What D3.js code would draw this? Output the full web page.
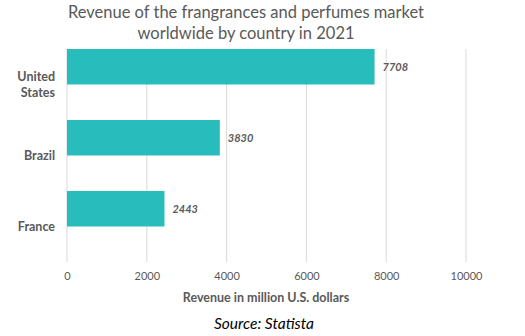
<!DOCTYPE html>
<html>
<head>
<meta charset="utf-8">
<script src="https://cdn.jsdelivr.net/npm/d3@7"></script>
<style>
  html, body { margin: 0; padding: 0; background: #fff; }
  svg { display: block; font-family: Lato, "Open Sans", sans-serif; }
</style>
</head>
<body>
<svg id="chart" width="525" height="336"></svg>
<script>
// Revenue by country, million U.S. dollars
const countries = ["United States", "Brazil", "France"];
const revenue = [7708, 3830, 2443];
const xTicks = [0, 2000, 4000, 6000, 8000, 10000];

const svg = d3.select("#chart");
const textColor = "#595959";
const barColor = "#29bcbc";

const x = d3.scaleLinear().domain([0, 10000]).range([67, 466]);
const y = d3.scaleBand().domain(countries).range([49, 262]).paddingInner(0).paddingOuter(0);
const barH = y.bandwidth() * 0.5;

// Title
svg.append("text")
  .attr("x", 246).attr("y", 18)
  .attr("text-anchor", "middle")
  .attr("fill", textColor)
  .style("font-size", "16.5px")
  .text("Revenue of the frangrances and perfumes market");
svg.append("text")
  .attr("x", 246).attr("y", 39)
  .attr("text-anchor", "middle")
  .attr("fill", textColor)
  .style("font-size", "16.5px")
  .text("worldwide by country in 2021");

// Vertical gridlines
svg.append("g")
  .selectAll("line")
  .data(xTicks)
  .join("line")
  .attr("x1", d => x(d)).attr("x2", d => x(d))
  .attr("y1", 49).attr("y2", 262)
  .attr("stroke", "#d9d9d9")
  .attr("stroke-width", 1);

// Bars
const rows = countries.map((c, i) => ({ c, v: revenue[i] }));
svg.append("g")
  .selectAll("rect")
  .data(rows)
  .join("rect")
  .attr("x", x(0))
  .attr("y", d => y(d.c))
  .attr("width", d => x(d.v) - x(0))
  .attr("height", barH)
  .attr("fill", barColor);

// Value labels
svg.append("g")
  .selectAll("text")
  .data(rows)
  .join("text")
  .attr("x", d => x(d.v) + 8)
  .attr("y", d => y(d.c) + barH / 2)
  .attr("dy", "0.35em")
  .attr("fill", textColor)
  .style("font-size", "11px")
  .style("font-weight", "bold")
  .style("font-style", "italic")
  .text(d => d.v);

// Category labels (centred on each band)
const catG = svg.append("g");
rows.forEach(d => {
  const words = d.c.split(" ");
  const lineH = 16;
  const cy = y(d.c) + y.bandwidth() / 2;
  const t = catG.append("text")
    .attr("text-anchor", "end")
    .attr("fill", textColor)
    .style("font-size", "12.5px")
    .style("font-weight", "bold");
  words.forEach((w, i) => {
    t.append("tspan")
      .attr("x", 55)
      .attr("y", cy + (i - (words.length - 1) / 2) * lineH)
      .attr("dy", "0.35em")
      .text(w);
  });
});

// X axis tick labels
const xAxis = d3.axisBottom(x).tickValues(xTicks).tickSize(0).tickPadding(0).tickFormat(d3.format("d"));
const axisG = svg.append("g").attr("transform", "translate(0,272)").call(xAxis);
axisG.select(".domain").remove();
axisG.selectAll("text")
  .attr("fill", textColor)
  .style("font-size", "11px")
  .style("font-family", "Lato, 'Open Sans', sans-serif");

// Axis title
svg.append("text")
  .attr("x", 266).attr("y", 302)
  .attr("text-anchor", "middle")
  .attr("fill", textColor)
  .style("font-size", "12.5px")
  .style("font-weight", "bold")
  .text("Revenue in million U.S. dollars");

// Source note
svg.append("text")
  .attr("x", 264).attr("y", 329)
  .attr("text-anchor", "middle")
  .attr("fill", "#000")
  .style("font-size", "15.5px")
  .style("font-style", "italic")
  .text("Source: Statista");
</script>
</body>
</html>
